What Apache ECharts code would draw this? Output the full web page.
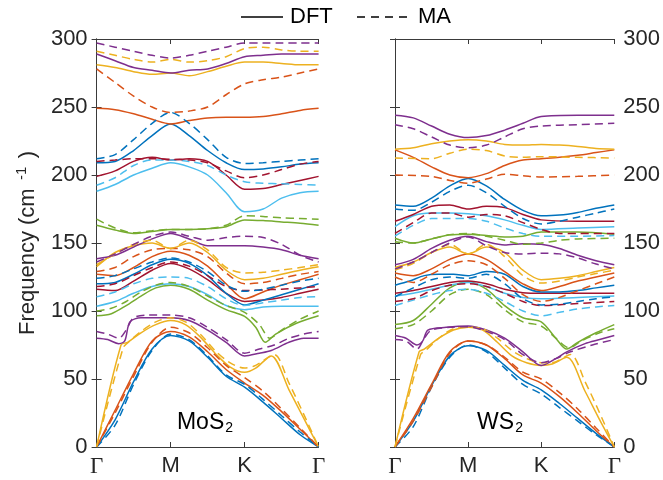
<!DOCTYPE html>
<html>
<head>
<meta charset="utf-8">
<script src="https://cdn.jsdelivr.net/npm/echarts@6/dist/echarts.min.js"></script>
<style>
  html, body { margin: 0; padding: 0; background: #fff; }
  #chart { width: 663px; height: 480px; }
</style>
</head>
<body>
<div id="chart"></div>
<script>
// path Γ-M-K-Γ, positions 0..3
const pathLabels = ['Γ', 'M', 'K', 'Γ'];
const freqTicks = [0, 50, 100, 150, 200, 250, 300];

// MoS2, DFT (solid) - 18 bands, [path position, frequency]
const mos2Dft = [
  [[0,0],[0.25,20],[0.5,48],[0.75,72],[1,82],[1.25,78],[1.5,66],[1.75,52],[2,44],[2.25,33],[2.5,21],[2.75,9],[3,0]],
  [[0,0],[0.25,27],[0.5,54],[0.75,78],[1,85],[1.25,81],[1.5,70],[1.75,57],[2,47],[2.25,38],[2.5,26],[2.75,13],[3,0]],
  [[0,0],[0.33,75],[0.42,77],[0.6,84],[0.8,90],[1,93],[1.2,90],[1.4,81],[1.6,69],[1.8,59],[2,55],[2.15,58],[2.36,67],[2.6,42],[2.8,21],[3,0]],
  [[0,80],[0.15,79],[0.3,76],[0.38,78],[0.45,92],[0.6,95],[0.8,95],[1,95],[1.25,93],[1.5,86],[1.75,77],[2,67],[2.2,69],[2.36,71],[2.6,77],[2.8,80],[3,80]],
  [[0,96.5],[0.2,98],[0.4,104],[0.6,111],[0.8,117],[1,119],[1.25,116],[1.5,108],[1.75,101],[2,96],[2.15,88],[2.28,77],[2.42,83],[2.7,91],[3,96.5]],
  [[0,103.5],[0.25,107],[0.5,113],[0.75,118],[1,120],[1.25,118],[1.5,112],[1.75,104],[2,101],[2.25,103],[2.5,103.5],[2.75,103.5],[3,103.5]],
  [[0,116],[0.25,115],[0.5,122],[0.75,130],[1,135],[1.25,131],[1.5,123],[1.75,113],[2,107],[2.25,108],[2.5,110],[2.75,113],[3,116]],
  [[0,120],[0.25,121],[0.5,127],[0.75,134],[1,138],[1.25,135],[1.5,126],[1.75,113],[2,104.5],[2.25,108],[2.5,112],[2.75,116],[3,120]],
  [[0,127],[0.25,126],[0.5,132],[0.75,140],[1,144],[1.25,141],[1.5,133],[1.75,120],[2,109],[2.25,114],[2.5,119],[2.75,123],[3,127]],
  [[0,132.5],[0.25,143],[0.5,148],[0.75,150],[1,146],[1.25,150],[1.5,143],[1.75,130],[2,123],[2.25,124],[2.5,127],[2.75,130],[3,132.5]],
  [[0,138.5],[0.25,141],[0.5,147],[0.75,153],[1,157],[1.25,153],[1.5,148],[1.75,148],[2,148],[2.25,147],[2.5,145],[2.75,141],[3,138.5]],
  [[0,163],[0.25,159.5],[0.5,157],[0.75,158.5],[1,160],[1.25,160],[1.5,160.5],[1.75,162],[2,167],[2.25,166.5],[2.5,165.5],[2.75,164.5],[3,163]],
  [[0,188],[0.25,193],[0.5,200],[0.75,205],[1,209],[1.25,206],[1.5,200],[1.75,187],[2,173],[2.25,175],[2.5,183],[2.75,187],[3,188]],
  [[0,199],[0.25,203],[0.5,210],[0.75,213],[1,211],[1.25,212],[1.5,210],[1.75,200],[2,189.5],[2.25,190],[2.5,193],[2.75,196],[3,199]],
  [[0,209],[0.25,210],[0.5,218],[0.75,229],[1,237.5],[1.25,229],[1.5,218],[1.75,209],[2,204],[2.25,204.5],[2.5,206],[2.75,208],[3,209]],
  [[0,249],[0.25,248],[0.5,245],[0.75,241],[1,237.5],[1.25,240],[1.5,242],[1.75,242.5],[2,242.5],[2.25,243],[2.5,245],[2.75,247.5],[3,249]],
  [[0,281],[0.25,279],[0.5,276],[0.75,274],[1,275],[1.25,273],[1.5,276],[1.75,280],[2,283],[2.25,283],[2.5,282],[2.75,281],[3,281]],
  [[0,289],[0.25,284],[0.5,279],[0.75,277],[1,275],[1.25,277],[1.5,278],[1.75,282],[2,287],[2.25,288],[2.5,289],[2.75,289],[3,289]]
];

// MoS2, MA (dashed)
const mos2Ma = [
  [[0,0],[0.25,16],[0.5,46],[0.75,71],[1,83],[1.25,79],[1.5,67],[1.75,53],[2,46],[2.25,35],[2.5,23],[2.75,11],[3,0]],
  [[0,0],[0.25,25],[0.5,52],[0.75,77],[1,88],[1.25,84],[1.5,73],[1.75,60],[2,51],[2.25,41],[2.5,28],[2.75,14],[3,0]],
  [[0,0],[0.36,73],[0.45,78],[0.6,85],[0.8,92],[1,95],[1.2,92],[1.4,83],[1.6,71],[1.8,62],[2,58],[2.15,60],[2.4,68],[2.6,47],[2.8,24],[3,0]],
  [[0,85],[0.15,83],[0.3,80],[0.4,86],[0.5,95],[0.7,97],[1,97],[1.25,95],[1.5,88],[1.75,79],[2,69],[2.2,72],[2.4,75],[2.6,80],[2.8,83],[3,85]],
  [[0,100],[0.2,102],[0.4,107],[0.6,114],[0.8,119],[1,121],[1.25,118],[1.5,111],[1.75,104],[2,99],[2.2,90],[2.34,80],[2.5,86],[2.75,94],[3,100]],
  [[0,110.5],[0.25,114],[0.5,120],[0.75,124],[1,125],[1.25,124],[1.5,118],[1.75,109],[2,104],[2.25,106],[2.5,108],[2.75,110],[3,110.5]],
  [[0,118],[0.25,120],[0.5,126],[0.75,132],[1,136],[1.25,133],[1.5,126],[1.75,118],[2,115],[2.25,115.5],[2.5,116],[2.75,117],[3,118]],
  [[0,124],[0.25,126],[0.5,131],[0.75,136],[1,139],[1.25,136],[1.5,129],[1.75,119],[2,114.5],[2.25,116],[2.5,119],[2.75,122],[3,124]],
  [[0,129],[0.25,132],[0.5,140],[0.75,145],[1,146],[1.25,145],[1.5,140],[1.75,128],[2,120],[2.25,121],[2.5,124],[2.75,127],[3,129]],
  [[0,134],[0.25,142],[0.5,149],[0.75,152],[1,146],[1.25,152],[1.5,145],[1.75,132],[2,128],[2.25,128.5],[2.5,130],[2.75,132],[3,134]],
  [[0,136],[0.25,142],[0.5,149],[0.75,155],[1,158],[1.25,155],[1.5,152],[1.75,154],[2,155],[2.25,154],[2.5,149],[2.75,141],[3,136]],
  [[0,167.5],[0.25,161],[0.5,157.5],[0.75,159],[1,160],[1.25,160],[1.5,160.5],[1.75,163],[2,170],[2.25,169.5],[2.5,168.5],[2.75,168],[3,167.5]],
  [[0,192.5],[0.25,198],[0.5,207],[0.75,211],[1,211],[1.25,210],[1.5,207],[1.75,200],[2,195],[2.25,194],[2.5,193.5],[2.75,193],[3,192.5]],
  [[0,210],[0.25,211],[0.5,212],[0.75,212],[1,211.5],[1.25,211],[1.5,209],[1.75,203],[2,198],[2.25,200],[2.5,204],[2.75,208],[3,210]],
  [[0,212],[0.25,215],[0.5,226],[0.75,238],[1,246],[1.25,238],[1.5,226],[1.75,213],[2,208.5],[2.25,209],[2.5,210],[2.75,211],[3,212]],
  [[0,278],[0.25,268],[0.5,258],[0.75,250],[1,246],[1.25,247],[1.5,250],[1.75,259],[2,267],[2.25,270],[2.5,272],[2.75,275],[3,278]],
  [[0,291],[0.25,288],[0.5,285],[0.75,283],[1,285],[1.25,283],[1.5,284],[1.75,287],[2,293],[2.25,294],[2.5,292],[2.75,291],[3,291]],
  [[0,297],[0.25,294],[0.5,291],[0.75,288],[1,286],[1.25,288],[1.5,291],[1.75,294],[2,297],[2.25,297],[2.5,297],[2.75,297],[3,297]]
];

// WS2, DFT (solid)
const ws2Dft = [
  [[0,0],[0.25,19],[0.5,45],[0.75,67],[1,74.5],[1.25,71],[1.5,60],[1.75,49],[2,42],[2.25,32],[2.5,21],[2.75,10],[3,0]],
  [[0,0],[0.25,21],[0.5,46],[0.75,70],[1,78],[1.25,75],[1.5,65],[1.75,53],[2,47],[2.25,37],[2.5,25],[2.75,12],[3,0]],
  [[0,0],[0.33,70],[0.4,72],[0.6,80],[0.8,86],[1,88],[1.2,86],[1.4,77],[1.6,67],[1.8,62],[2,60],[2.15,61],[2.35,66],[2.6,41],[2.8,20],[3,0]],
  [[0,82],[0.15,80],[0.3,75],[0.38,78],[0.45,86],[0.7,88],[1,89],[1.25,86],[1.5,80],[1.75,70],[2,60],[2.2,65],[2.35,70],[2.6,76],[2.8,79],[3,82]],
  [[0,90],[0.25,93],[0.5,105],[0.75,117],[1,121.5],[1.25,116],[1.5,104],[1.75,95],[2,92],[2.2,80],[2.35,72],[2.5,77],[2.75,84],[3,90]],
  [[0,111],[0.25,113],[0.5,116],[0.75,119],[1,121],[1.25,118],[1.5,113],[1.75,110],[2,109],[2.5,110],[3,111]],
  [[0,113],[0.25,115],[0.5,118],[0.75,121],[1,122],[1.25,120],[1.5,116],[1.75,113.5],[2,113],[2.5,113],[3,113]],
  [[0,119],[0.2,122],[0.4,126],[0.6,127],[0.8,127],[1,126],[1.25,129],[1.5,127],[1.75,118],[2,114],[2.25,114],[2.5,115],[2.75,117],[3,119]],
  [[0,128],[0.25,126],[0.5,131],[0.75,138],[1,142],[1.25,138],[1.5,129],[1.75,120],[2,115],[2.25,118],[2.5,122],[2.75,125],[3,128]],
  [[0,132],[0.25,136],[0.5,143],[0.75,147],[1,142],[1.25,147],[1.5,143],[1.75,130],[2,123],[2.25,124],[2.5,126],[2.75,129],[3,132]],
  [[0,134],[0.25,138],[0.5,146],[0.75,152],[1,155],[1.25,151],[1.5,148.5],[1.75,149.5],[2,149],[2.25,146],[2.5,141],[2.75,137],[3,134]],
  [[0,153.5],[0.25,150],[0.5,153],[0.75,156],[1,156.5],[1.25,155.5],[1.5,154.5],[1.75,155],[2,158],[2.5,158],[3,156.5]],
  [[0,162],[0.25,170],[0.5,172],[0.75,172],[1,171.5],[1.25,170],[1.5,167],[1.75,163],[2,160],[2.5,161],[3,162]],
  [[0,166],[0.25,171],[0.5,177],[0.75,178],[1,175],[1.25,177],[1.5,176],[1.75,171],[2,167],[2.5,166],[3,166]],
  [[0,178],[0.25,177],[0.5,183],[0.75,192],[1,197.5],[1.25,192],[1.5,182],[1.75,174],[2,170],[2.25,170.5],[2.5,172.5],[2.75,175.5],[3,178]],
  [[0,218.5],[0.25,213],[0.5,206],[0.75,200],[1,198],[1.25,201],[1.5,207],[1.75,211],[2,212],[2.25,213],[2.5,214.5],[2.75,216.5],[3,218.5]],
  [[0,219],[0.25,220],[0.5,223],[0.75,225],[1,226],[1.25,225],[1.5,222.5],[1.75,222],[2,222.5],[2.25,222],[2.5,221],[2.75,219.5],[3,219]],
  [[0,244],[0.25,242],[0.5,236],[0.75,230],[1,227.5],[1.25,229],[1.5,233],[1.75,238],[2,243],[2.5,244],[3,244]]
];

// WS2, MA (dashed)
const ws2Ma = [
  [[0,0],[0.25,15],[0.5,44],[0.75,66],[1,75],[1.25,70],[1.5,58],[1.75,46],[2,39],[2.25,29],[2.5,19],[2.75,9],[3,0]],
  [[0,0],[0.25,19],[0.5,44],[0.75,69],[1,78],[1.25,75],[1.5,66],[1.75,55],[2,50],[2.25,40],[2.5,28],[2.75,14],[3,0]],
  [[0,0],[0.35,68],[0.42,71],[0.6,80],[0.8,87],[1,88],[1.2,87],[1.4,80],[1.6,71],[1.8,65],[2,62],[2.15,62],[2.4,68],[2.6,48],[2.8,25],[3,0]],
  [[0,79],[0.15,78],[0.3,72],[0.4,80],[0.5,86],[0.75,88],[1,88.5],[1.25,85],[1.5,79],[1.75,68],[2,62],[2.2,65],[2.4,70],[2.7,75],[3,79]],
  [[0,87],[0.25,90],[0.5,100],[0.75,112],[1,116],[1.25,112],[1.5,101],[1.75,92],[2,89],[2.2,80],[2.38,73],[2.55,78],[2.8,84],[3,87]],
  [[0,104],[0.25,108],[0.5,112],[0.75,115],[1,116],[1.25,113],[1.5,107],[1.75,100],[2,96.5],[2.25,99],[2.5,101.5],[2.75,103],[3,104]],
  [[0,107],[0.25,109],[0.5,115],[0.75,119],[1,120],[1.25,118],[1.5,113],[1.75,107],[2,104],[2.5,105.5],[3,107]],
  [[0,110.5],[0.25,117],[0.5,123],[0.75,125],[1,124],[1.25,127],[1.5,120],[1.75,109],[2,104.5],[2.25,105],[2.5,107],[2.75,109],[3,110.5]],
  [[0,125],[0.25,121],[0.5,127],[0.75,134],[1,137],[1.25,134],[1.5,124],[1.75,112],[2,107],[2.25,110],[2.5,115],[2.75,120],[3,125]],
  [[0,130],[0.25,135],[0.5,143],[0.75,149],[1,142],[1.25,149],[1.5,140],[1.75,126],[2,120.5],[2.25,122],[2.5,125],[2.75,127.5],[3,130]],
  [[0,131],[0.25,136],[0.5,143],[0.75,150],[1,154.5],[1.25,148],[1.5,143],[1.75,142],[2,142.5],[2.25,142],[2.5,139],[2.75,134.5],[3,131]],
  [[0,151],[0.25,150],[0.5,153],[0.75,156],[1,157],[1.25,155],[1.5,152],[1.75,149],[2,150],[2.25,152],[2.5,153],[3,153.5]],
  [[0,155],[0.25,163],[0.5,168],[0.75,168],[1,168],[1.25,166],[1.5,161],[1.75,157],[2,155],[2.5,155],[3,155.5]],
  [[0,157],[0.25,165],[0.5,172],[0.75,172],[1,169],[1.25,171],[1.5,170],[1.75,165],[2,160],[2.25,157],[2.5,157],[3,157]],
  [[0,175],[0.25,174],[0.5,180],[0.75,188],[1,192.5],[1.25,187],[1.5,177],[1.75,168],[2,164],[2.25,166],[2.5,169],[2.75,172],[3,175]],
  [[0,200],[0.5,199],[0.75,196],[1,194],[1.25,197],[1.5,200.5],[1.75,199.5],[2,198.5],[2.5,199],[3,200]],
  [[0,212.5],[0.5,212],[0.75,216],[1,219],[1.25,218],[1.5,214],[1.75,213],[2,213.5],[2.5,213],[3,212.5]],
  [[0,237],[0.25,234],[0.5,228],[0.75,222],[1,220],[1.25,222],[1.5,228],[1.75,234],[2,236],[2.5,237],[3,238]]
];

// matlab default colour order
const bandColors = ['#0072BD', '#D95319', '#EDB120', '#7E2F8E', '#77AC30', '#4DBEEE', '#A2142F'];

var myChart = echarts.init(document.getElementById('chart'));

const fontName = 'Liberation Sans';
const frameColor = '#3a3a3a';
const labelSize = 22;

function bandSeries(bands, xi, yi, dashed) {
    return bands.map(function (pts, b) {
        return {
            type: 'line',
            xAxisIndex: xi,
            yAxisIndex: yi,
            data: pts,
            showSymbol: false,
            smooth: 0.3,
            silent: true,
            lineStyle: {
                color: bandColors[b % 7],
                width: 1.5,
                type: dashed ? [8, 5] : 'solid'
            }
        };
    });
}

function xAxisFor(grid, top) {
    return {
        type: 'value',
        gridIndex: grid,
        position: top ? 'top' : 'bottom',
        min: 0, max: 3, interval: 1,
        axisLine: { show: true, onZero: false, lineStyle: { color: frameColor, width: 1 } },
        axisTick: { show: true, inside: true, length: 5, lineStyle: { color: frameColor } },
        splitLine: { show: false },
        axisLabel: {
            show: !top,
            margin: 8,
            fontSize: labelSize,
            color: '#262626',
            fontFamily: fontName,
            formatter: function (v) {
                const s = pathLabels[Math.round(v)];
                return s === 'Γ' ? '{g|Γ}' : s;
            },
            rich: { g: { fontFamily: 'Liberation Serif', fontSize: labelSize + 1, color: '#262626' } }
        }
    };
}

function yAxisFor(grid, side, labels) {
    return {
        type: 'value',
        gridIndex: grid,
        position: side,
        min: freqTicks[0], max: freqTicks[freqTicks.length - 1], interval: 50,
        axisLine: { show: true, lineStyle: { color: frameColor, width: 1 } },
        axisTick: { show: true, inside: true, length: 5, lineStyle: { color: frameColor } },
        splitLine: { show: false },
        axisLabel: { show: labels, margin: 9, fontSize: labelSize, color: '#262626', fontFamily: fontName }
    };
}

let series = [];
series = series.concat(bandSeries(mos2Dft, 0, 0, false));
series = series.concat(bandSeries(mos2Ma, 0, 0, true));
series = series.concat(bandSeries(ws2Dft, 2, 2, false));
series = series.concat(bandSeries(ws2Ma, 2, 2, true));

myChart.setOption({
    animation: false,
    backgroundColor: '#fff',
    grid: [
        { left: 96.6, right: 344.4, top: 39, bottom: 33 },
        { left: 395, right: 47, top: 39, bottom: 33 }
    ],
    xAxis: [xAxisFor(0, false), xAxisFor(0, true), xAxisFor(1, false), xAxisFor(1, true)],
    yAxis: [yAxisFor(0, 'left', true), yAxisFor(0, 'right', false), yAxisFor(1, 'left', false), yAxisFor(1, 'right', true)],
    graphic: [
        // legend
        { type: 'line', shape: { x1: 241, y1: 17, x2: 283, y2: 17 }, style: { stroke: '#000', lineWidth: 1.5 } },
        { type: 'text', x: 290, y: 17, style: { text: 'DFT', fontSize: 22, fontFamily: fontName, fill: '#000', verticalAlign: 'middle' } },
        { type: 'line', shape: { x1: 357, y1: 17, x2: 410, y2: 17 }, style: { stroke: '#000', lineWidth: 1.5, lineDash: [8, 6] } },
        { type: 'text', x: 418, y: 17, style: { text: 'MA', fontSize: 22, fontFamily: fontName, fill: '#000', verticalAlign: 'middle' } },
        // y axis name
        {
            type: 'text', x: 28, y: 243, rotation: Math.PI / 2,
            style: {
                text: '{n|Frequency (cm}{s|  -1  }{n|)}',
                align: 'center', verticalAlign: 'middle',
                rich: {
                    n: { fontSize: 22, fontFamily: fontName, fill: '#262626' },
                    s: { fontSize: 15, fontFamily: fontName, fill: '#262626', padding: [0, 0, 13, 0] }
                }
            }
        },
        // panel labels
        {
            type: 'text', x: 205, y: 423,
            style: {
                text: '{n|MoS}{s|2}', align: 'center', verticalAlign: 'middle',
                rich: {
                    n: { fontSize: 23, fontFamily: fontName, fill: '#000' },
                    s: { fontSize: 14, fontFamily: fontName, fill: '#000', padding: [11, 0, 0, 1] }
                }
            }
        },
        {
            type: 'text', x: 500, y: 423,
            style: {
                text: '{n|WS}{s|2}', align: 'center', verticalAlign: 'middle',
                rich: {
                    n: { fontSize: 23, fontFamily: fontName, fill: '#000' },
                    s: { fontSize: 14, fontFamily: fontName, fill: '#000', padding: [11, 0, 0, 1] }
                }
            }
        }
    ],
    series: series
});
</script>
</body>
</html>
